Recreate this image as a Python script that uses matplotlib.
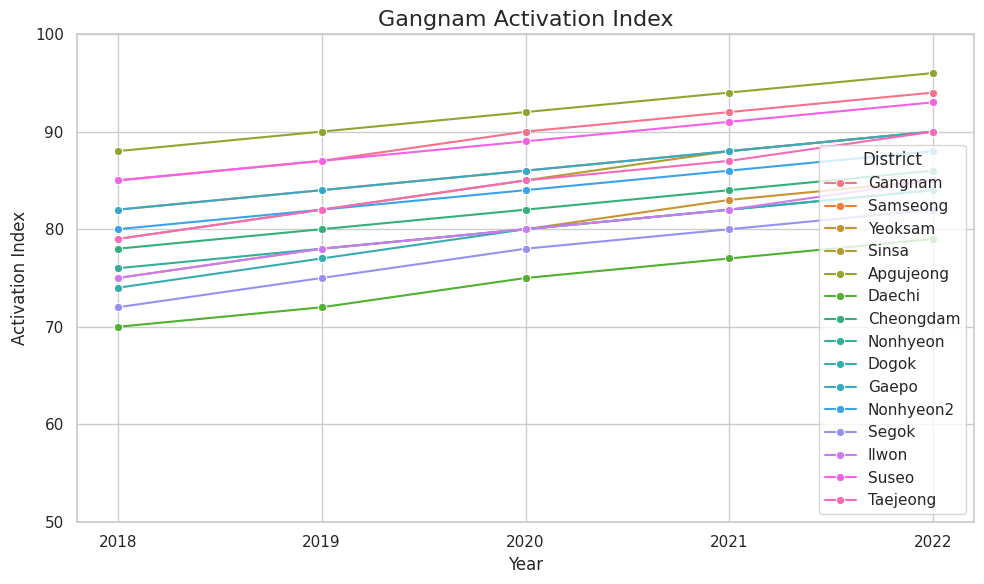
import matplotlib
matplotlib.use("Agg")
import matplotlib.pyplot as plt
import seaborn as sns
import pandas as pd

years = [2018, 2019, 2020, 2021, 2022]
districts = ["Gangnam", "Samseong", "Yeoksam", "Sinsa", "Apgujeong", "Daechi",
             "Cheongdam", "Nonhyeon", "Dogok", "Gaepo", "Nonhyeon2", "Segok",
             "Ilwon", "Suseo", "Taejeong"]

gangnam = [85, 87, 90, 92, 94]
samseong = [82, 84, 86, 88, 90]
yeoksam = [75, 78, 80, 83, 85]
sinsa = [79, 82, 85, 88, 90]
apgujeong = [88, 90, 92, 94, 96]
daechi = [70, 72, 75, 77, 79]
cheongdam = [78, 80, 82, 84, 86]
nonhyeon = [76, 78, 80, 82, 84]
dogok = [74, 77, 80, 82, 84]
gaepo = [82, 84, 86, 88, 90]
nonhyeon2 = [80, 82, 84, 86, 88]
segok = [72, 75, 78, 80, 82]
ilwon = [75, 78, 80, 82, 85]
suseo = [85, 87, 89, 91, 93]
taejeong = [79, 82, 85, 87, 90]

series = [gangnam, samseong, yeoksam, sinsa, apgujeong, daechi, cheongdam,
          nonhyeon, dogok, gaepo, nonhyeon2, segok, ilwon, suseo, taejeong]

rows = []
for name, vals in zip(districts, series):
    for y, v in zip(years, vals):
        rows.append({"Year": y, "Activation Index": v, "District": name})
df = pd.DataFrame(rows)

sns.set_theme(style="whitegrid")
plt.rcParams['font.family'] = ['DejaVu Sans']

fig = plt.figure(figsize=(9.84, 5.84), dpi=100)
ax = fig.add_axes([77/984, 1-522/584, (974-77)/984, (522-34)/584])
sns.lineplot(data=df, x="Year", y="Activation Index", hue="District",
             marker="o", ax=ax, palette=sns.color_palette("husl", 15))
ax.set_ylim(50, 100)
ax.set_xticks(years)
ax.set_xticklabels([str(y) for y in years])
ax.set_title("Gangnam Activation Index", fontsize=16)
ax.legend(title="District", loc="lower right")
fig.savefig("out.png", dpi=100)
